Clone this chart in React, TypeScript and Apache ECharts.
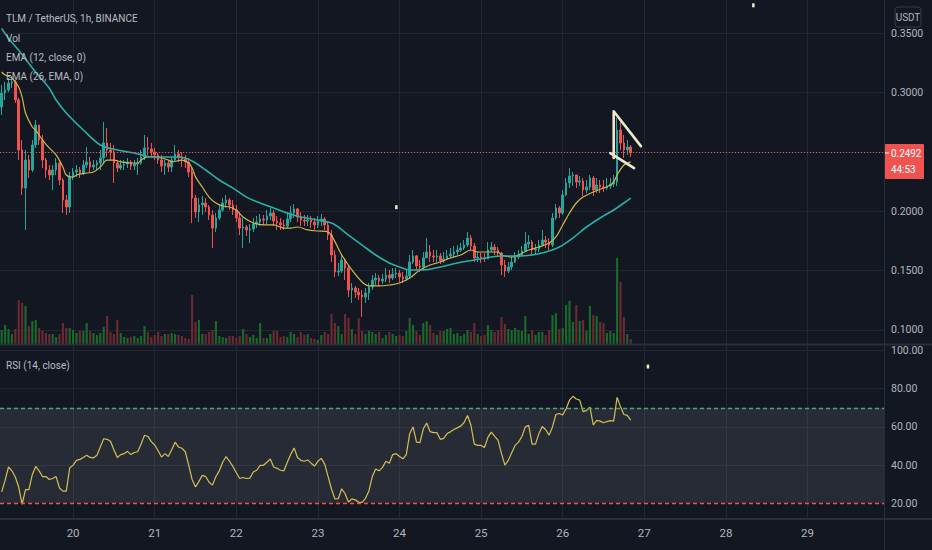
import React, { useEffect, useRef } from 'react';
import * as echarts from 'echarts';

// ---------- texts ----------
const SYMBOL_TITLE = 'TLM / TetherUS, 1h, BINANCE';
const LEGEND_LINES = ['Vol', 'EMA (12, close, 0)', 'EMA (26, EMA, 0)'];
const RSI_TITLE = 'RSI (14, close)';
const QUOTE = 'USDT';
const COUNTDOWN = '44:53';

// ---------- time slots (hourly) ----------
const FIRST_DAY = 19;
const FIRST_HOUR = 3;
const SLOT_COUNT = 260;
const categories: string[] = [];
for (let i = 0; i < SLOT_COUNT; i++) {
  const t = FIRST_HOUR + i;
  const d = FIRST_DAY + Math.floor(t / 24);
  const h = t % 24;
  categories.push(`${d} ${String(h).padStart(2, '0')}:00`);
}

// ---------- axes ----------
const PRICE_LABELS = [0.1, 0.15, 0.2, 0.3, 0.35];
const PRICE_GRID = [0.1, 0.15, 0.2, 0.25, 0.3, 0.35];
const PRICE_MIN = 0.0882;
const PRICE_MAX = 0.37806;
const RSI_LABELS = [20, 40, 60, 80, 100];
const RSI_GRID = [40, 60, 80, 100];
const RSI_MIN = 12.3;
const RSI_MAX = 102.36;
const RSI_UPPER = 70;
const RSI_LOWER = 20;
const VOL_MAX = 34.4;

// ---------- candles (open = previous close) ----------
const FIRST_OPEN = 0.2879;
const closes = [
  0.2997, 0.3022, 0.3081, 0.3090, 0.2938, 0.2517, 0.2196, 0.2432, 0.2348, 0.2559,
  0.2727, 0.2601, 0.2432, 0.2348, 0.2306, 0.2348, 0.2407, 0.2264, 0.2095, 0.2036,
  0.2289, 0.2331, 0.2348, 0.2323, 0.2390, 0.2416, 0.2373, 0.2390, 0.2407, 0.2449,
  0.2576, 0.2517, 0.2500, 0.2407, 0.2365, 0.2390, 0.2399, 0.2416, 0.2382, 0.2399,
  0.2407, 0.2458, 0.2534, 0.2525, 0.2500, 0.2475, 0.2432, 0.2382, 0.2407, 0.2373,
  0.2432, 0.2483, 0.2458, 0.2441, 0.2416, 0.2331, 0.2112, 0.1994, 0.2053, 0.2070,
  0.2036, 0.1969, 0.1859, 0.1944, 0.2011, 0.2070, 0.2095, 0.2053, 0.2011, 0.1944,
  0.1859, 0.1868, 0.1843, 0.1851, 0.1893, 0.1910, 0.1935, 0.1927, 0.1961, 0.1986,
  0.1918, 0.1902, 0.1885, 0.1876, 0.1935, 0.1986, 0.2020, 0.1952, 0.1927, 0.1918,
  0.1927, 0.1910, 0.1885, 0.1918, 0.1935, 0.1885, 0.1800, 0.1632, 0.1489, 0.1497,
  0.1590, 0.1522, 0.1337, 0.1354, 0.1320, 0.1295, 0.1278, 0.1312, 0.1362, 0.1421,
  0.1438, 0.1413, 0.1430, 0.1463, 0.1438, 0.1472, 0.1480, 0.1447, 0.1430, 0.1455,
  0.1573, 0.1624, 0.1539, 0.1531, 0.1607, 0.1657, 0.1624, 0.1615, 0.1624, 0.1581,
  0.1598, 0.1624, 0.1640, 0.1657, 0.1674, 0.1691, 0.1716, 0.1775, 0.1708, 0.1607,
  0.1615, 0.1607, 0.1598, 0.1674, 0.1699, 0.1674, 0.1649, 0.1548, 0.1497, 0.1531,
  0.1573, 0.1615, 0.1632, 0.1666, 0.1725, 0.1741, 0.1674, 0.1682, 0.1716, 0.1758,
  0.1741, 0.1716, 0.1944, 0.2028, 0.1986, 0.2138, 0.2239, 0.2298, 0.2306, 0.2247,
  0.2256, 0.2180, 0.2205, 0.2281, 0.2180, 0.2222, 0.2205, 0.2196, 0.2213, 0.2230,
  0.2247, 0.2685, 0.2576, 0.2517, 0.2542, 0.2492,
];
const highs = [
  0.3064, 0.3090, 0.3123, 0.3140, 0.3107, 0.2955, 0.2601, 0.2517, 0.2475, 0.2601,
  0.2769, 0.2727, 0.2643, 0.2449, 0.2390, 0.2390, 0.2449, 0.2432, 0.2281, 0.2138,
  0.2331, 0.2365, 0.2390, 0.2373, 0.2432, 0.2542, 0.2458, 0.2432, 0.2432, 0.2517,
  0.2753, 0.2702, 0.2576, 0.2559, 0.2432, 0.2432, 0.2432, 0.2449, 0.2432, 0.2432,
  0.2449, 0.2517, 0.2643, 0.2626, 0.2576, 0.2534, 0.2491, 0.2475, 0.2432, 0.2432,
  0.2458, 0.2559, 0.2517, 0.2500, 0.2475, 0.2449, 0.2365, 0.2138, 0.2112, 0.2129,
  0.2112, 0.2053, 0.2011, 0.1986, 0.2053, 0.2112, 0.2138, 0.2112, 0.2095, 0.2053,
  0.1994, 0.1944, 0.1885, 0.1893, 0.1944, 0.1961, 0.1977, 0.1969, 0.2011, 0.2028,
  0.2011, 0.1961, 0.1944, 0.1927, 0.1994, 0.2045, 0.2062, 0.2028, 0.1994, 0.1969,
  0.1969, 0.1961, 0.1944, 0.1961, 0.1977, 0.1952, 0.1910, 0.1843, 0.1674, 0.1565,
  0.1632, 0.1607, 0.1548, 0.1396, 0.1371, 0.1354, 0.1337, 0.1354, 0.1396, 0.1463,
  0.1480, 0.1463, 0.1472, 0.1522, 0.1506, 0.1522, 0.1522, 0.1506, 0.1489, 0.1506,
  0.1632, 0.1674, 0.1632, 0.1590, 0.1657, 0.1775, 0.1716, 0.1674, 0.1674, 0.1649,
  0.1657, 0.1674, 0.1691, 0.1708, 0.1716, 0.1733, 0.1758, 0.1826, 0.1800, 0.1733,
  0.1657, 0.1649, 0.1649, 0.1741, 0.1741, 0.1725, 0.1699, 0.1657, 0.1590, 0.1573,
  0.1615, 0.1657, 0.1674, 0.1708, 0.1826, 0.1800, 0.1758, 0.1725, 0.1758, 0.1843,
  0.1792, 0.1775, 0.1986, 0.2062, 0.2045, 0.2180, 0.2281, 0.2365, 0.2331, 0.2306,
  0.2298, 0.2281, 0.2264, 0.2306, 0.2298, 0.2281, 0.2264, 0.2264, 0.2281, 0.2281,
  0.2306, 0.2786, 0.2769, 0.2643, 0.2601, 0.2559,
];
const lows = [
  0.2812, 0.2938, 0.3005, 0.3039, 0.2913, 0.2432, 0.2138, 0.1843, 0.2281, 0.2331,
  0.2534, 0.2559, 0.2365, 0.2281, 0.2264, 0.2180, 0.2306, 0.2222, 0.1986, 0.1969,
  0.1986, 0.2264, 0.2289, 0.2281, 0.2306, 0.2365, 0.2331, 0.2348, 0.2348, 0.2348,
  0.2407, 0.2458, 0.2432, 0.2239, 0.2331, 0.2348, 0.2348, 0.2365, 0.2348, 0.2348,
  0.2306, 0.2390, 0.2432, 0.2475, 0.2466, 0.2432, 0.2399, 0.2331, 0.2306, 0.2331,
  0.2331, 0.2416, 0.2416, 0.2373, 0.2365, 0.2289, 0.1902, 0.1944, 0.1910, 0.1969,
  0.1994, 0.1927, 0.1691, 0.1826, 0.1927, 0.1994, 0.2028, 0.2011, 0.1969, 0.1910,
  0.1800, 0.1691, 0.1792, 0.1733, 0.1826, 0.1859, 0.1876, 0.1885, 0.1893, 0.1927,
  0.1876, 0.1843, 0.1843, 0.1843, 0.1859, 0.1910, 0.1944, 0.1910, 0.1876, 0.1876,
  0.1876, 0.1859, 0.1843, 0.1859, 0.1876, 0.1843, 0.1758, 0.1573, 0.1447, 0.1455,
  0.1480, 0.1421, 0.1278, 0.1228, 0.1270, 0.1253, 0.1110, 0.1228, 0.1253, 0.1337,
  0.1379, 0.1371, 0.1388, 0.1404, 0.1396, 0.1421, 0.1438, 0.1404, 0.1396, 0.1413,
  0.1438, 0.1556, 0.1506, 0.1489, 0.1506, 0.1607, 0.1573, 0.1573, 0.1573, 0.1556,
  0.1565, 0.1590, 0.1607, 0.1615, 0.1632, 0.1657, 0.1674, 0.1699, 0.1674, 0.1573,
  0.1573, 0.1565, 0.1573, 0.1607, 0.1657, 0.1632, 0.1615, 0.1463, 0.1447, 0.1480,
  0.1506, 0.1565, 0.1598, 0.1615, 0.1657, 0.1691, 0.1632, 0.1640, 0.1657, 0.1708,
  0.1691, 0.1674, 0.1699, 0.1927, 0.1944, 0.1969, 0.2129, 0.2196, 0.2213, 0.2196,
  0.2213, 0.2129, 0.2154, 0.2180, 0.2129, 0.2154, 0.2154, 0.2163, 0.2180, 0.2188,
  0.2205, 0.2213, 0.2517, 0.2449, 0.2475, 0.2458,
];
// volume, millions TLM
const volumes = [
  1.4, 1.9, 1.5, 1.0, 1.5, 4.4, 4.1, 3.8, 1.8, 2.3,
  2.4, 1.6, 1.3, 1.1, 1.0, 1.0, 0.7, 1.0, 2.1, 1.6,
  1.6, 1.4, 1.1, 1.3, 1.3, 2.1, 1.3, 1.1, 0.9, 1.1,
  1.7, 2.8, 1.2, 1.0, 2.4, 1.1, 0.7, 0.6, 0.7, 0.8,
  0.6, 0.8, 1.8, 1.2, 0.7, 0.9, 1.2, 0.8, 1.0, 1.0,
  1.1, 1.0, 0.9, 0.8, 0.6, 0.5, 4.9, 2.2, 2.4, 1.0,
  1.0, 1.2, 1.4, 2.3, 0.8, 0.7, 0.6, 0.8, 0.8, 0.6,
  0.8, 1.5, 1.0, 0.7, 0.9, 0.6, 2.1, 0.6, 0.6, 1.0,
  1.3, 1.3, 0.7, 0.8, 0.7, 1.2, 1.0, 0.7, 1.2, 0.9,
  1.0, 0.6, 0.5, 0.4, 0.9, 1.2, 1.0, 3.0, 2.1, 1.8,
  1.0, 3.0, 2.6, 1.5, 1.0, 2.6, 1.3, 1.0, 1.3, 1.2,
  1.0, 1.2, 0.6, 0.9, 1.2, 1.0, 0.8, 0.9, 0.8, 1.3,
  2.6, 1.9, 1.3, 0.9, 2.1, 2.3, 1.9, 1.1, 0.9, 1.3,
  1.3, 1.5, 1.6, 1.0, 1.1, 0.8, 1.0, 1.4, 1.2, 2.1,
  1.0, 0.8, 0.9, 1.9, 1.4, 1.2, 1.4, 2.7, 2.0, 1.5,
  1.4, 1.6, 1.4, 1.3, 2.8, 1.0, 1.4, 0.9, 1.2, 1.2,
  0.9, 1.4, 2.9, 3.1, 1.5, 1.6, 3.9, 4.3, 2.2, 3.9,
  2.3, 2.4, 1.3, 3.8, 2.9, 2.8, 2.2, 2.1, 1.1, 1.3,
  1.1, 8.6, 6.2, 2.7, 1.0, 0.5,
];
// EMA (12, close): [slot index, value]
const ema12 = [
  [0, 0.3174], [1, 0.3149], [3, 0.3123], [5, 0.3048], [6, 0.2963], [7, 0.2828], [9, 0.2710],
  [10, 0.2685], [12, 0.2601], [14, 0.2534], [16, 0.2475], [18, 0.2373], [19, 0.2306], [21, 0.2289],
  [22, 0.2306], [25, 0.2323], [27, 0.2331], [29, 0.2373], [31, 0.2432], [33, 0.2432], [35, 0.2416],
  [38, 0.2407], [40, 0.2407], [41, 0.2432], [43, 0.2458], [45, 0.2458], [47, 0.2449], [49, 0.2432],
  [50, 0.2416], [53, 0.2432], [55, 0.2407], [56, 0.2365], [57, 0.2290], [59, 0.2205], [61, 0.2120],
  [63, 0.2070], [65, 0.2045], [67, 0.2036], [69, 0.2011], [71, 0.1952], [74, 0.1902], [77, 0.1885],
  [80, 0.1885], [83, 0.1859], [85, 0.1859], [87, 0.1868], [90, 0.1843], [93, 0.1834], [96, 0.1826],
  [98, 0.1745], [100, 0.1632], [103, 0.1506], [106, 0.1404], [108, 0.1371], [111, 0.1371],
  [114, 0.1379], [117, 0.1396], [120, 0.1438], [123, 0.1506], [126, 0.1548], [129, 0.1573],
  [132, 0.1607], [135, 0.1632], [138, 0.1674], [140, 0.1657], [143, 0.1657], [146, 0.1657],
  [147, 0.1632], [150, 0.1615], [152, 0.1632], [155, 0.1674], [158, 0.1699], [161, 0.1733],
  [163, 0.1784], [165, 0.1885], [167, 0.1986], [169, 0.2070], [171, 0.2120], [174, 0.2163],
  [177, 0.2196], [179, 0.2222], [180, 0.2247], [181, 0.2306], [183, 0.2390], [185, 0.2416],
];
// EMA (26, EMA): [slot index, value]
const ema26 = [
  [0, 0.3542], [2, 0.3458], [5, 0.3357], [10, 0.3172], [14, 0.3037], [16, 0.2938], [19, 0.2828],
  [24, 0.2685], [29, 0.2559], [34, 0.2517], [39, 0.2491], [44, 0.2458], [50, 0.2458], [54, 0.2449],
  [57, 0.2407], [60, 0.2348], [64, 0.2264], [68, 0.2196], [72, 0.2120], [76, 0.2070], [80, 0.2028],
  [84, 0.1986], [88, 0.1952], [93, 0.1927], [97, 0.1902], [99, 0.1868], [102, 0.1800], [106, 0.1716],
  [110, 0.1632], [114, 0.1565], [117, 0.1531], [120, 0.1506], [124, 0.1506], [129, 0.1531],
  [134, 0.1565], [139, 0.1590], [144, 0.1615], [147, 0.1624], [152, 0.1624], [156, 0.1632],
  [160, 0.1657], [164, 0.1699], [168, 0.1775], [172, 0.1868], [176, 0.1944], [180, 0.2011],
  [183, 0.2070], [185, 0.2112],
];
// RSI (14, close), one value per candle
const rsi = [
  26, 32, 39, 37, 33.8, 28.5, 19.5, 27.2, 27.2, 35,
  39.3, 37, 34, 34, 32.5, 33, 34, 28, 26.4, 26.4,
  38.5, 40, 42.5, 43, 44, 45.1, 44, 43.8, 45.1, 49.5,
  53.8, 53.5, 52.5, 48, 44, 45.5, 46, 47.2, 45.5, 46.6,
  47, 51, 55.6, 55, 52.3, 50.5, 47.5, 44.2, 46, 44.5,
  48, 52, 49.5, 48.8, 47, 40, 32.5, 28.5, 31.5, 34.6,
  34, 31, 29.5, 34, 37, 41.5, 44.5, 42, 39.3, 36,
  33, 33.5, 33, 33.2, 36.4, 37.3, 39.9, 39.9, 41.5, 43.2,
  39, 38.3, 37.3, 37, 41.5, 45.5, 49, 44, 42.5, 42,
  42.7, 41, 39.5, 42, 43.5, 40.5, 34, 27.5, 22.3, 22.4,
  27.6, 25, 20.7, 22.3, 21.8, 20.5, 20.5, 22.6, 26.5, 34,
  38, 37, 38.8, 42, 41, 45.5, 46, 44.5, 43.3, 45.5,
  56.5, 60, 52, 51.7, 59, 62, 57.5, 57, 57, 53.5,
  54, 56.5, 57.4, 58.6, 59.5, 60.4, 62.3, 66, 61, 51,
  50.3, 50.3, 49.2, 54.5, 57.3, 55, 52.9, 46, 40, 42.5,
  46.5, 50.3, 52, 55, 60, 60.8, 51, 51, 56.5, 60.2,
  58.5, 55.7, 60, 66.5, 67, 66.2, 69.5, 74, 76, 74.6,
  74, 68, 68.5, 70.4, 61, 63.4, 63, 62.2, 62.8, 63.3,
  63, 75.5, 70.5, 66.5, 66, 63.6,
];
// hand-drawn annotation (slot index, price)
const drawPeak = [[179.8, 0.2449], [180.4, 0.2843], [188.0, 0.2549]];
const drawLower = [[179.2, 0.2491], [186.3, 0.2364]];
const priceDots = [[220.7, 0.3736], [115.7, 0.2035]];
const rsiDots = [[190.4, 91.6]];

// ---------- styles ----------
const BG = '#131722';
const GRID_COLOR = '#232733';
const PANE_LINE = '#2a2e39';
const TEXT = '#b2b5be';
const UP = '#26a69a';
const DOWN = '#ef5350';
const VOL_UP = '#1a6a2a';
const VOL_DOWN = '#6d2b31';
const FONT = "Roboto, 'Liberation Sans', sans-serif";
const LEGEND_SCALE = 0.87;

const LAST_INDEX = closes.length - 1;
const LAST_PRICE = closes[LAST_INDEX];

const isDay = (_i: number, v: string) => v.endsWith(' 00:00');

const bandLine = (name: string, value: number, color: string) => ({
  name,
  type: 'line',
  xAxisIndex: 2,
  yAxisIndex: 2,
  data: [],
  z: 3,
  silent: true,
  color,
  markLine: {
    silent: true,
    symbol: ['none', 'none'],
    label: { show: false },
    emphasis: { disabled: true },
    lineStyle: { color, type: [4, 3], width: 1.4, opacity: 1 },
    data: [{ yAxis: value, lineStyle: { color, type: [4, 3], width: 1.4, opacity: 1 } }],
  },
});

export default function App() {
  const ref = useRef<HTMLDivElement>(null);

  useEffect(() => {
    if (!ref.current) return;
    const chart = echarts.init(ref.current, undefined, { renderer: 'svg' });

    const candleData = closes.map((c, i) => {
      const o = i === 0 ? FIRST_OPEN : closes[i - 1];
      return [o, c, Math.min(lows[i], o, c), Math.max(highs[i], o, c)];
    });
    const volData = volumes.map((v, i) => {
      const o = i === 0 ? FIRST_OPEN : closes[i - 1];
      return { value: v, itemStyle: { color: closes[i] >= o ? VOL_UP : VOL_DOWN } };
    });

    const xAxisBase = (gi: number) => ({
      type: 'category',
      gridIndex: gi,
      data: categories,
      boundaryGap: true,
      axisLine: { show: false },
      axisTick: { show: false },
      axisLabel:
        gi === 2
          ? {
              show: true,
              interval: isDay,
              formatter: (v: string) => v.slice(0, 2),
              color: TEXT,
              fontSize: 11.5,
              margin: 9,
              fontFamily: FONT,
            }
          : { show: false },
      splitLine:
        gi === 1
          ? { show: false }
          : { show: true, interval: isDay, alignWithLabel: true, lineStyle: { color: GRID_COLOR, width: 1 } },
    });

    const option: any = {
      animation: false,
      backgroundColor: BG,
      textStyle: { fontFamily: FONT },
      grid: [
        { left: 0, right: 48, top: 0, height: 344 },
        { left: 0, right: 48, top: 0, height: 344 },
        { left: 0, right: 48, top: 346, height: 172 },
      ],
      xAxis: [xAxisBase(0), xAxisBase(1), xAxisBase(2)],
      yAxis: [
        {
          type: 'value',
          gridIndex: 0,
          position: 'right',
          min: PRICE_MIN,
          max: PRICE_MAX,
          axisLine: { show: false },
          axisTick: { show: false, customValues: PRICE_GRID },
          axisLabel: {
            customValues: PRICE_LABELS,
            formatter: (v: number) => v.toFixed(4),
            color: TEXT,
            fontSize: 10.5,
            margin: 7,
            fontFamily: FONT,
          },
          splitLine: { show: true, lineStyle: { color: GRID_COLOR, width: 1 } },
        },
        {
          type: 'value',
          gridIndex: 1,
          min: 0,
          max: VOL_MAX,
          show: false,
          splitLine: { show: false },
        },
        {
          type: 'value',
          gridIndex: 2,
          position: 'right',
          min: RSI_MIN,
          max: RSI_MAX,
          axisLine: { show: false },
          axisTick: { show: false, customValues: RSI_GRID },
          axisLabel: {
            customValues: RSI_LABELS,
            formatter: (v: number) => v.toFixed(2),
            color: TEXT,
            fontSize: 10.5,
            margin: 7,
            fontFamily: FONT,
          },
          splitLine: { show: true, lineStyle: { color: GRID_COLOR, width: 1 } },
        },
      ],
      series: [
        {
          name: 'Vol',
          type: 'bar',
          xAxisIndex: 1,
          yAxisIndex: 1,
          data: volData,
          barWidth: '62%',
          z: 1,
          silent: true,
        },
        {
          name: 'TLMUSDT',
          type: 'candlestick',
          xAxisIndex: 0,
          yAxisIndex: 0,
          data: candleData,
          barWidth: '62%',
          z: 3,
          itemStyle: {
            color: UP,
            color0: DOWN,
            borderColor: UP,
            borderColor0: DOWN,
            borderWidth: 1,
          },
          markLine: {
            silent: true,
            symbol: ['none', 'none'],
            label: { show: false },
            lineStyle: { color: DOWN, type: [1, 2], width: 1 },
            data: [{ yAxis: LAST_PRICE }],
          },
        },
        {
          name: 'EMA12',
          type: 'line',
          xAxisIndex: 0,
          yAxisIndex: 0,
          data: ema12,
          showSymbol: false,
          smooth: 0.35,
          z: 4,
          lineStyle: { color: '#cdb84f', width: 1.2 },
        },
        {
          name: 'EMA26',
          type: 'line',
          xAxisIndex: 0,
          yAxisIndex: 0,
          data: ema26,
          showSymbol: false,
          smooth: 0.35,
          z: 4,
          lineStyle: { color: '#2ab0a6', width: 1.6 },
        },
        {
          name: 'RSI band',
          type: 'line',
          xAxisIndex: 2,
          yAxisIndex: 2,
          data: [],
          z: 1,
          silent: true,
          markArea: {
            silent: true,
            itemStyle: { color: 'rgba(120,123,134,0.2)' },
            data: [[{ yAxis: RSI_LOWER }, { yAxis: RSI_UPPER }]],
          },
        },
        bandLine('RSI upper', RSI_UPPER, '#46a872'),
        bandLine('RSI lower', RSI_LOWER, '#f2524e'),
        {
          name: 'RSI',
          type: 'line',
          xAxisIndex: 2,
          yAxisIndex: 2,
          data: rsi,
          showSymbol: false,
          z: 4,
          lineStyle: { color: '#d4bf52', width: 1.2 },
        },
      ],
    };

    chart.setOption(option);

    const toPx = (p: number[]) =>
      chart.convertToPixel({ xAxisIndex: 0, yAxisIndex: 0 }, p) as number[];
    const toRsiPx = (p: number[]) =>
      chart.convertToPixel({ xAxisIndex: 2, yAxisIndex: 2 }, p) as number[];

    const py = toPx([LAST_INDEX, LAST_PRICE])[1];
    const txt = (text: string, x: number, y: number, extra: any = {}, z = 60, scaleX = LEGEND_SCALE) => ({
      type: 'text',
      z,
      x,
      y,
      scaleX,
      style: {
        text,
        x: 0,
        y: 0,
        fill: '#b8bbc4',
        fontSize: 11.5,
        fontFamily: FONT,
        align: 'left',
        verticalAlign: 'middle',
        ...extra,
      },
    });
    const drawStyle = {
      stroke: '#f1e7ca',
      lineWidth: 2.6,
      lineCap: 'round',
      lineJoin: 'round',
      fill: null,
    };

    const graphics: any[] = [
      { type: 'line', z: 50, shape: { x1: 0, y1: 344.5, x2: 932, y2: 344.5 }, style: { stroke: PANE_LINE, lineWidth: 2 } },
      { type: 'line', z: 50, shape: { x1: 0, y1: 519, x2: 932, y2: 519 }, style: { stroke: PANE_LINE, lineWidth: 2 } },
      { type: 'line', z: 50, shape: { x1: 884.5, y1: 0, x2: 884.5, y2: 550 }, style: { stroke: PANE_LINE, lineWidth: 1 } },
      txt(SYMBOL_TITLE, 6, 18),
      ...LEGEND_LINES.map((t, i) => txt(t, 6, 38 + i * 19.3)),
      txt(RSI_TITLE, 6, 365),
      {
        type: 'rect',
        z: 60,
        shape: { x: 895, y: 7, width: 26, height: 20, r: 3 },
        style: { fill: BG, stroke: '#363a45', lineWidth: 1 },
      },
      txt(QUOTE, 908, 17.5, { align: 'center', fontSize: 11, fill: '#b2b5be' }, 61, 0.9),
      {
        type: 'rect',
        z: 70,
        shape: { x: 885, y: py - 9, width: 39, height: 35, r: 1 },
        style: { fill: '#ef5350' },
      },
      {
        type: 'line',
        z: 71,
        shape: { x1: 885, y1: py, x2: 889, y2: py },
        style: { stroke: '#ffffff', lineWidth: 1 },
      },
      txt(LAST_PRICE.toFixed(4), 891, py, { fill: '#ffffff', fontSize: 11 }, 72, 0.9),
      txt(COUNTDOWN, 891, py + 16, { fill: '#ffffff', fontSize: 11 }, 72, 0.9),
      { type: 'polyline', z: 80, shape: { points: drawPeak.map(toPx) }, style: drawStyle },
      { type: 'polyline', z: 80, shape: { points: drawLower.map(toPx) }, style: drawStyle },
      ...priceDots.map((p) => {
        const [x, y] = toPx(p);
        return { type: 'rect', z: 80, shape: { x: x - 1, y: y - 2, width: 2.5, height: 4 }, style: { fill: '#f1e7ca' } };
      }),
      ...rsiDots.map((p) => {
        const [x, y] = toRsiPx(p);
        return { type: 'rect', z: 80, shape: { x: x - 1, y: y - 2, width: 2.5, height: 4 }, style: { fill: '#f1e7ca' } };
      }),
    ];

    chart.setOption({ graphic: graphics });

    return () => {
      chart.dispose();
    };
  }, []);

  return (
    <div
      ref={ref}
      style={{ position: 'fixed', left: 0, top: 0, width: 932, height: 550, background: BG }}
    />
  );
}
